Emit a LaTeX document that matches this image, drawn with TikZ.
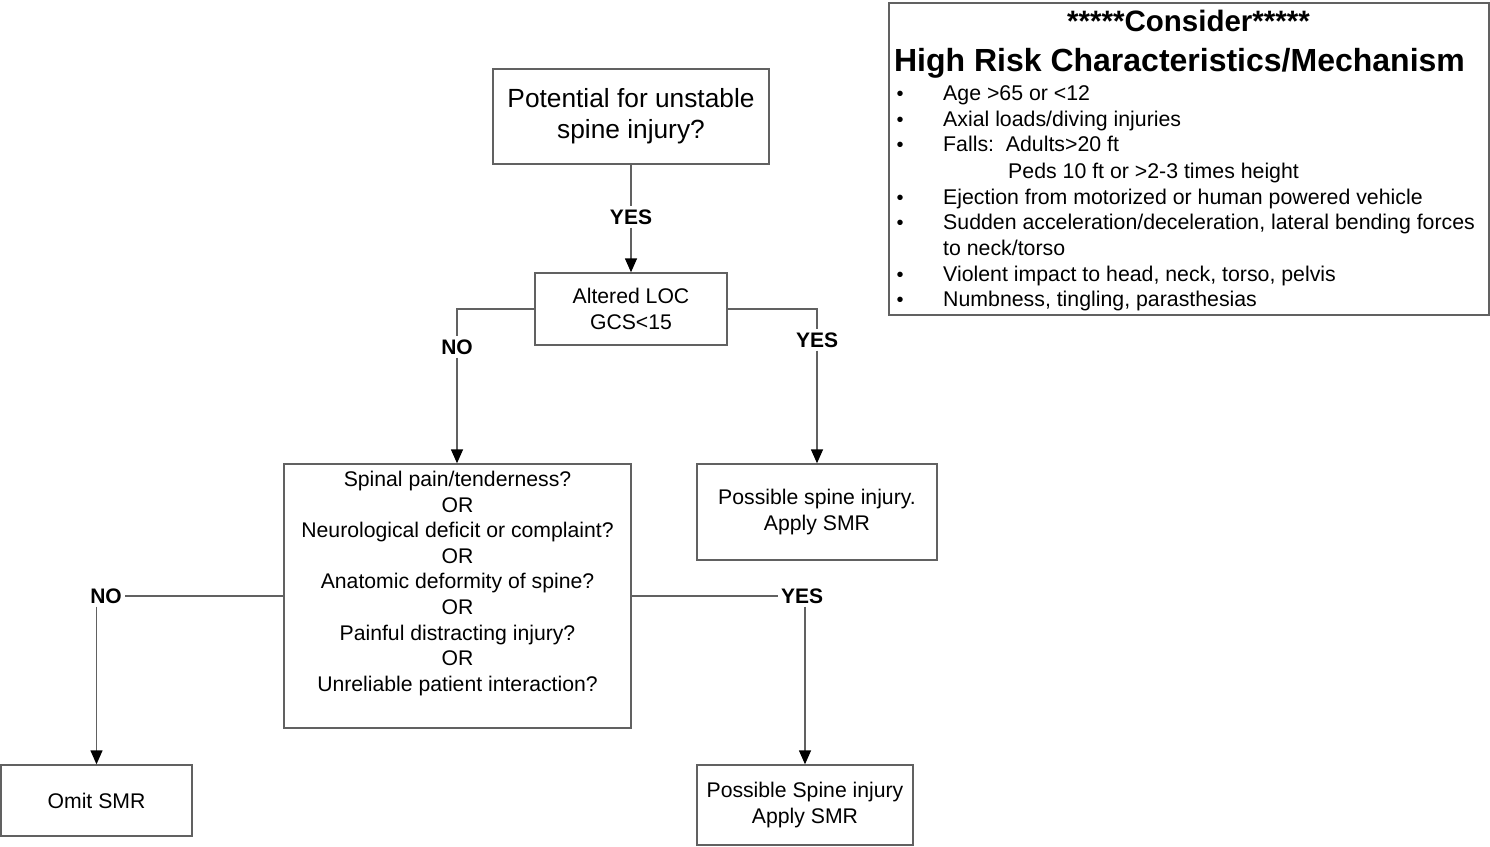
\documentclass[tikz,border=0pt]{standalone}
\usepackage{fontspec}
\setmainfont{Liberation Sans}
\usetikzlibrary{arrows.meta}
\definecolor{linec}{gray}{0.38}
\begin{document}
\begin{tikzpicture}[x=1pt,y=-1pt,
  box/.style={draw=linec,line width=1.4pt,inner sep=0pt,align=center,
    font=\fontsize{21.2}{25.6}\selectfont},
  txt/.style={inner sep=0pt,align=center,font=\fontsize{21.2}{25.6}\selectfont},
  lab/.style={inner sep=3pt,font=\fontsize{21}{24}\selectfont\bfseries},
  conn/.style={draw=linec,line width=1.4pt},
  arr/.style={conn,-{Triangle[length=14pt,width=12pt,color=black]}},
  item/.style={inner sep=0pt,anchor=base west,font=\fontsize{21.3}{25}\selectfont},
  bul/.style={inner sep=0pt,anchor=base,font=\fontsize{20}{24}\selectfont}]
\useasboundingbox (0,0) rectangle (1490,846);

% boxes
\node[box,minimum width=276pt,minimum height=95pt,font=\fontsize{26.3}{31}\selectfont] (pot) at (631,116.5) {Potential for unstable\\spine injury?};
\node[box,minimum width=192pt,minimum height=72pt] (alt) at (631,309) {Altered LOC\\GCS<15};
\node[box,minimum width=347pt,minimum height=264pt] (spin) at (457.5,596) {};
\node[txt] (spintxt) at (457.5,583.5) {Spinal pain/tenderness?\\OR\\Neurological deficit or complaint?\\OR\\Anatomic deformity of spine?\\OR\\Painful distracting injury?\\OR\\Unreliable patient interaction?};
\node[box,minimum width=240pt,minimum height=96pt] (pos1) at (817,512) {Possible spine injury.\\Apply SMR};
\node[box,minimum width=191pt,minimum height=71pt] (omit) at (96.5,800.5) {Omit SMR};
\node[box,minimum width=216pt,minimum height=80pt] (pos2) at (805,805) {Possible Spine injury\\Apply SMR};

% labels
\node[lab] (yes1) at (631,217) {YES};
\node[lab] (no1) at (457,347) {NO};
\node[lab] (yes2) at (817,340) {YES};
\node[lab] (no2) at (106,596) {NO};
\node[lab] (yes3) at (802,596) {YES};

% connectors
\draw[conn] (pot.south) -- (yes1.north);
\draw[arr] (yes1.south) -- (alt.north);
\draw[conn] (alt.west) -| (no1.north);
\draw[arr] (no1.south) -- (spin.north -| no1.south);
\draw[conn] (alt.east) -| (yes2.north);
\draw[arr] (yes2.south) -- (pos1.north);
\draw[conn] (spin.west) -- (no2.east);
\draw[arr] (omit.north |- no2.south) -- (omit.north);
\draw[conn] (spin.east) -- (yes3.west);
\draw[arr] (pos2.north |- yes3.south) -- (pos2.north);

% risk box
\node[draw=linec,line width=1.4pt,inner sep=0pt,minimum width=600pt,minimum height=312pt] (risk) at (1189,159) {};
\node[inner sep=0pt,anchor=base,font=\fontsize{29.5}{32}\selectfont\bfseries] (cons) at (1188.5,31) {*****Consider*****};
\node[inner sep=0pt,anchor=base,font=\fontsize{32}{34}\selectfont\bfseries] (head) at (1179.5,71) {High Risk Characteristics/Mechanism};
\foreach \y/\t [count=\i] in {100.5/{Age >65 or <12},126.5/{Axial loads/diving injuries},151.5/{Falls:\ \ Adults>20 ft},204.5/{Ejection from motorized or human powered vehicle},229.5/{Sudden acceleration/deceleration, lateral bending forces},281.5/{Violent impact to head, neck, torso, pelvis},306.5/{Numbness, tingling, parasthesias}}{
  \node[bul] (b\i) at (900,\y) {•};
  \node[item] (it\i) at (943,\y) {\t};
}
\node[item] (peds) at (1008,178.5) {Peds 10 ft or >2-3 times height};
\node[item] (neck) at (943,255.5) {to neck/torso};
\end{tikzpicture}
\end{document}
